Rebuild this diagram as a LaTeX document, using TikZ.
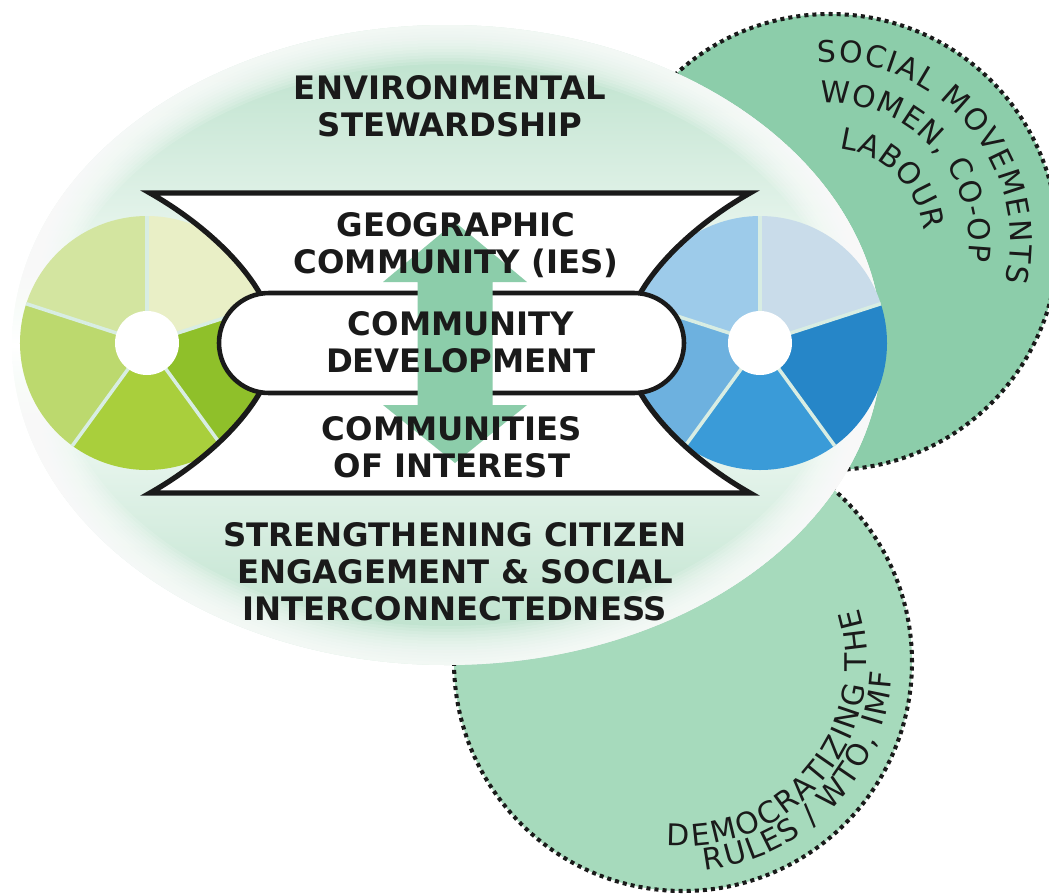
\documentclass[tikz,border=0pt]{standalone}
\usepackage{fontspec}
\setmainfont{DejaVu Sans}
\usetikzlibrary{decorations.text}
\definecolor{mint}{HTML}{8CCDAA}
\definecolor{mintlight}{HTML}{A6DABC}
\definecolor{mintbg}{HTML}{B8E0C9}
\definecolor{ink}{HTML}{1A1A1A}
\definecolor{divider}{HTML}{D8EDE3}
\definecolor{lpa}{HTML}{E9EFC6}
\definecolor{lpb}{HTML}{D3E5A0}
\definecolor{lpc}{HTML}{BCD96E}
\definecolor{lpd}{HTML}{A9CF3C}
\definecolor{lpe}{HTML}{8FC02A}
\definecolor{rpa}{HTML}{C9DCEA}
\definecolor{rpb}{HTML}{9DCBEA}
\definecolor{rpc}{HTML}{6DB1DF}
\definecolor{rpd}{HTML}{3A9BD8}
\definecolor{rpe}{HTML}{2686C8}
\newcommand\curvefont{\fontsize{17}{20}\selectfont}
\tikzset{
  maintext/.style={font=\fontsize{18.4}{21}\selectfont\bfseries, align=center, inner sep=0pt, text=ink, anchor=north},
  dotborder/.style={draw=ink, line width=2.3pt, dash pattern=on 2.3pt off 2.3pt},
  outline/.style={draw=ink, fill=white, line join=miter},
  divline/.style={draw=divider, line width=2pt},
  curvetext/.style={decorate, decoration={text along path, text align={fit to path}, text color=ink}}
}
\begin{document}
\begin{tikzpicture}[x=0.02cm, y=0.02cm]
\useasboundingbox (0,0) rectangle (1049,-894);
% outer circles
\path[fill=mint, dotborder] (830,-242) circle [radius=228];
\path[fill=mintlight, dotborder] (683,-662) circle [radius=229];
% main ellipse
\path[top color=mintbg, bottom color=mintbg, middle color=white] (447,-345) ellipse [x radius=435, y radius=320];
\begin{scope}
  \clip (447,-345) ellipse [x radius=435, y radius=320];
  \foreach \w in {6,12,...,78}
    \draw[white, opacity=0.14, line width={\w*0.569pt}] (447,-345) ellipse [x radius=435, y radius=320];
\end{scope}
% left pie
\foreach \a/\c in {18/lpa, 90/lpb, 162/lpc, 234/lpd, 306/lpe}
  \fill[\c] (147,-343) -- ++(\a:127) arc[start angle=\a, end angle=\a+72, radius=127] -- cycle;
\foreach \a in {18,90,162,234,306}
  \draw[divline] (147,-343) -- ++(\a:127);
\fill[white] (147,-343) circle [radius=32];
% right pie
\foreach \a/\c in {18/rpa, 90/rpb, 162/rpc, 234/rpd, 306/rpe}
  \fill[\c] (760,-343) -- ++(\a:127) arc[start angle=\a, end angle=\a+72, radius=127] -- cycle;
\foreach \a in {18,90,162,234,306}
  \draw[divline] (760,-343) -- ++(\a:127);
\fill[white] (760,-343) circle [radius=32];
% bowtie
\path[outline, line width=3pt] (150,-193) -- (750,-193)
  .. controls (685,-230) and (625,-290) .. (625,-343)
  .. controls (625,-396) and (685,-456) .. (750,-493)
  -- (150,-493)
  .. controls (215,-456) and (275,-396) .. (275,-343)
  .. controls (275,-290) and (215,-230) .. (150,-193) -- cycle;
% pill
\path[outline, line width=2.6pt] (269,-293) -- (634,-293)
  arc[start angle=90, end angle=-90, radius=50] -- (269,-393)
  arc[start angle=270, end angle=90, radius=50] -- cycle;
% double arrow
\fill[mint] (455,-222) -- (527,-282) -- (492.5,-282) -- (492.5,-405) -- (527,-405)
  -- (455,-463) -- (383,-405) -- (417.5,-405) -- (417.5,-282) -- (383,-282) -- cycle;
% texts
\node[maintext] (env) at (450,-75) {ENVIRONMENTAL\\STEWARDSHIP};
\node[maintext] (geo) at (456,-212) {GEOGRAPHIC\\COMMUNITY (IES)};
\node[maintext] (cd) at (461,-311) {COMMUNITY\\DEVELOPMENT};
\node[maintext] (coi) at (452,-416) {COMMUNITIES\\OF INTEREST};
\node[maintext] (sce) at (455,-522) {STRENGTHENING CITIZEN\\ENGAGEMENT \& SOCIAL\\INTERCONNECTEDNESS};
% curved texts
{\curvefont
\path[curvetext, decoration={text={|\curvefont|SOCIAL MOVEMENTS}}]
  (830,-242) ++(94:180) arc[start angle=94, end angle=-13, radius=180];
\path[curvetext, decoration={text={|\curvefont|WOMEN, CO-OP}}]
  (830,-242) ++(94:139) arc[start angle=94, end angle=-8, radius=139];
\path[curvetext, decoration={text={|\curvefont|LABOUR}}]
  (830,-242) ++(84:94) arc[start angle=84, end angle=7, radius=94];
\path[curvetext, decoration={text={|\curvefont|DEMOCRATIZING THE}}]
  (683,-662) ++(-95:184) arc[start angle=-95, end angle=17, radius=184];
\path[curvetext, decoration={text={|\curvefont|RULES / WTO, IMF}}]
  (683,-662) ++(-84:209) arc[start angle=-84, end angle=-3, radius=209];
}
\end{tikzpicture}
\end{document}
